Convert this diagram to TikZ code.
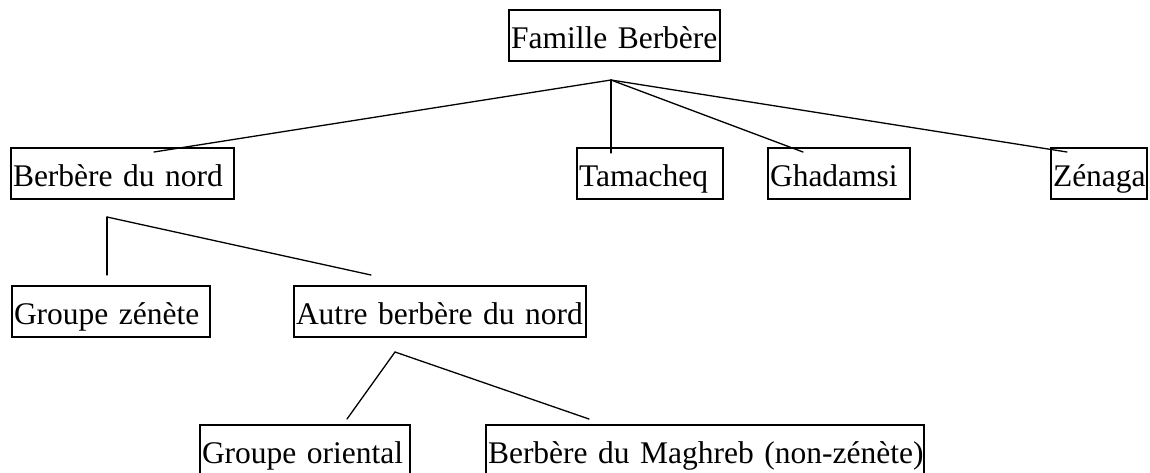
\documentclass[tikz,border=0pt]{standalone}
\usepackage{fontspec}
\setmainfont{Liberation Serif}
\usetikzlibrary{calc}
\tikzset{
  box/.style={draw, line width=1.6pt, rectangle, anchor=north west, outer sep=0pt,
    inner xsep=2pt, inner ysep=6pt, text height=32pt, text depth=7pt,
    align=left, font=\fontsize{31.5}{38}\selectfont},
  conn/.style={line width=1.3pt, line cap=round}
}
\begin{document}
\begin{tikzpicture}[x=1pt,y=-1pt]
\useasboundingbox (0,0) rectangle (1150,472);
\clip (0,0) rectangle (1150,472);
\node[box, text width=207pt] (fam) at (509,10) {\mbox{Famille Berbère}};
\node[box, text width=219pt] (bdn) at (11,148) {\mbox{Berbère du nord}};
\node[box, text width=142pt] (tam) at (577,148) {\mbox{Tamacheq}};
\node[box, text width=138pt] (gha) at (768,148) {\mbox{Ghadamsi}};
\node[box, text width=92pt] (zen) at (1051,148) {\mbox{Zénaga}};
\node[box, text width=194pt] (gz) at (12,286) {\mbox{Groupe zénète}};
\node[box, text width=288pt] (abn) at (294,286) {\mbox{Autre berbère du nord}};
\node[box, text width=206pt] (go) at (200,425) {\mbox{Groupe oriental}};
\node[box, text width=434pt] (bm) at (486,425) {\mbox{Berbère du Maghreb (non-zénète)}};
\coordinate (a1) at (611,80);
\coordinate (a2) at (107,217);
\coordinate (a3) at (395,352);
\draw[conn] (a1) -- ($(bdn.north west)+(143,4)$);
\draw[conn] (a1) -- ($(tam.north west)+(34,5)$);
\draw[conn] (a1) -- ($(gha.north west)+(35,4)$);
\draw[conn] (a1) -- ($(zen.north west)+(16,4)$);
\draw[conn] (a2) -- ($(gz.north west)+(95,-11)$);
\draw[conn] (a2) -- ($(abn.north west)+(77,-11)$);
\draw[conn] (a3) -- ($(go.north west)+(147,-6)$);
\draw[conn] (a3) -- ($(bm.north west)+(103,-6)$);
\end{tikzpicture}
\end{document}
